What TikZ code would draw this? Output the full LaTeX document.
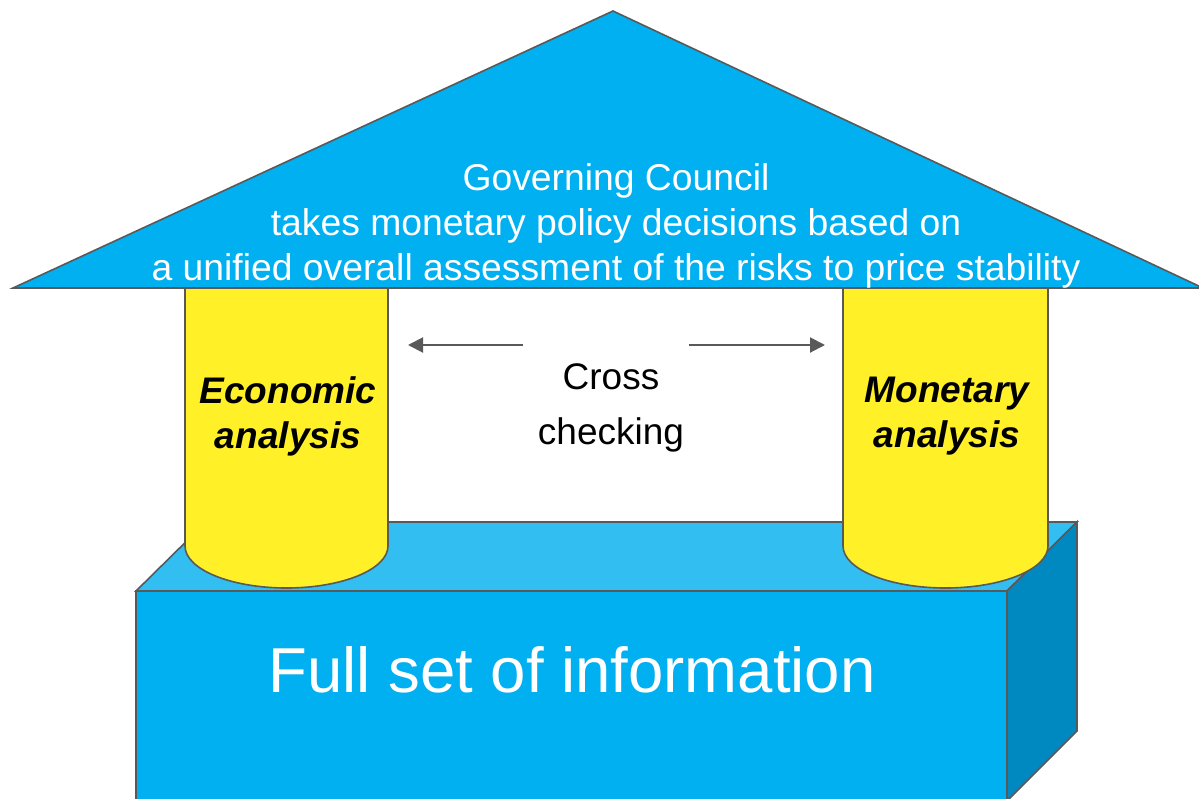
\documentclass[tikz,border=0pt]{standalone}
\usepackage{fontspec}
\setmainfont{Liberation Sans}
\usetikzlibrary{arrows.meta}
\definecolor{roofblue}{RGB}{0,176,240}
\definecolor{topblue}{RGB}{51,190,242}
\definecolor{sideblue}{RGB}{0,137,192}
\definecolor{coly}{RGB}{255,240,40}
\definecolor{edgegray}{RGB}{89,89,89}
\begin{document}
\begin{tikzpicture}[x=1pt,y=-1pt,
  outline/.style={draw=edgegray,line width=1.6pt,line join=miter},
  whitetext/.style={text=white,align=center,inner sep=0pt},
  blacktext/.style={text=black,align=center,inner sep=0pt},
  crossarrow/.style={draw=edgegray,line width=2pt,-{Triangle[length=15pt,width=15pt]}}]
\useasboundingbox (0,0) rectangle (1199,798);
% information box
\draw[outline,fill=roofblue] (136,815) -- (136,591) -- (1007,591) -- (1007,815);
\draw[outline,fill=topblue] (136,591) -- (206,522) -- (1077,522) -- (1007,591) -- cycle;
\draw[outline,fill=sideblue] (1007,591) -- (1077,522) -- (1077,731) -- (1007,801) -- cycle;
% columns
\draw[outline,fill=coly] (185,280) -- (185,546) arc[start angle=180,end angle=0,x radius=101.5,y radius=42] -- (388,280);
\draw[outline,fill=coly] (843,280) -- (843,546) arc[start angle=180,end angle=0,x radius=102.5,y radius=42] -- (1048,280);
% roof
\draw[outline,fill=roofblue] (13,288) -- (613,11) -- (1203,288) -- cycle;
% texts
\node[whitetext,font=\fontsize{37.3}{45}\selectfont] (council) at (616,226)
  {Governing Council\\takes monetary policy decisions based on\\a unified overall assessment of the risks to price stability};
\node[blacktext,font=\fontsize{37}{55}\selectfont] (cross) at (611,408) {Cross\\checking};
\node[blacktext,font=\fontsize{37}{45}\selectfont\bfseries\itshape] (econ) at (288,416) {Economic\\analysis};
\node[blacktext,font=\fontsize{37}{45}\selectfont\bfseries\itshape] (mon) at (947,416) {Monetary\\analysis};
\node[whitetext,font=\fontsize{63.5}{70}\selectfont] (info) at (572,670) {Full set of information};
% arrows
\coordinate (la) at (523,345);
\coordinate (lb) at (408,345);
\coordinate (ra) at (689,345);
\coordinate (rb) at (825,345);
\draw[crossarrow] (la) -- (lb);
\draw[crossarrow] (ra) -- (rb);
\end{tikzpicture}
\end{document}
